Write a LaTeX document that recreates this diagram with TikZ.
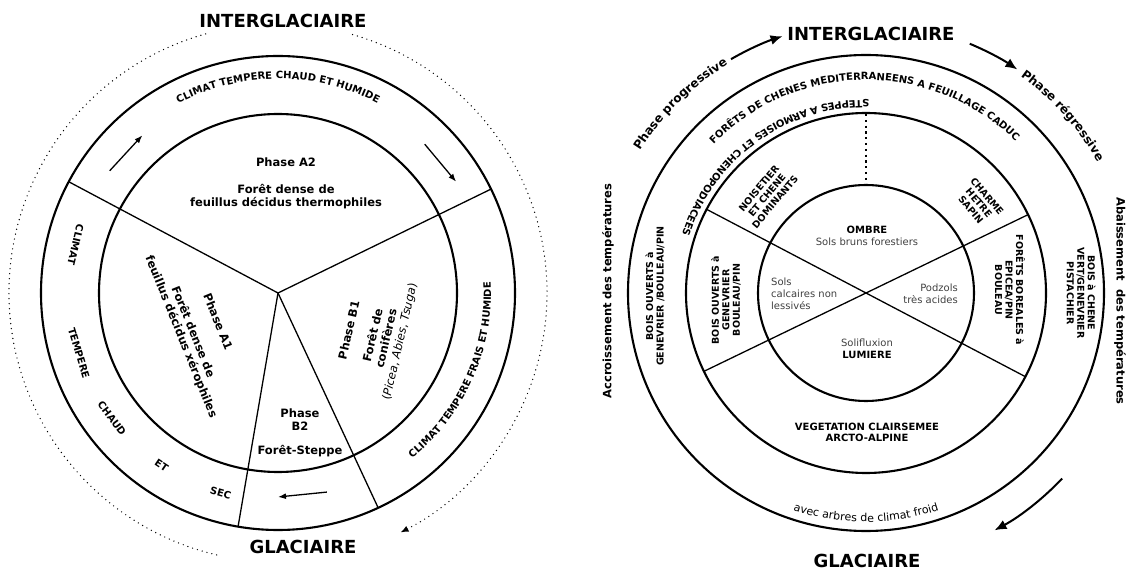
\documentclass[tikz,border=0pt]{standalone}
\usepackage{fontspec}
\setmainfont{DejaVu Sans}
\usetikzlibrary{decorations.text,arrows.meta,calc}
\begin{document}
\begin{tikzpicture}[x=1pt,y=1pt,
  ring/.style={line width=2.1pt},
  spoke/.style={line width=1.3pt},
  lbl/.style={font=\bfseries\fontsize{11.5}{12.6}\selectfont, align=center, inner sep=0pt},
  ann/.style={font=\bfseries\fontsize{9.5}{10.5}\selectfont, align=center, inner sep=0pt},
  word/.style={font=\bfseries\fontsize{10}{12}\selectfont, inner sep=0pt},
  big/.style={font=\bfseries\fontsize{18}{20}\selectfont, inner sep=0pt},
  side/.style={font=\bfseries\fontsize{11.5}{13}\selectfont, inner sep=0pt},
  soil/.style={font=\fontsize{10}{11.8}\selectfont, text=black!75, inner sep=0pt},
  dots/.style={line width=1.4pt, dash pattern=on 0pt off 5pt, line cap=round},
  smallarrow/.style={line width=1.3pt, -{Latex[length=8pt,width=6pt]}},
  bigarrow/.style={line width=2pt, -{Latex[length=12pt,width=10pt]}},
]
\useasboundingbox (0,0) rectangle (1128,571);
\coordinate (C1) at (278,278);
\coordinate (C2) at (866,278);

% ================= LEFT DIAGRAM =================
\draw[ring] (C1) circle[radius=237];
\draw[ring] (C1) circle[radius=179];
\foreach \a in {152,26,260.3,295} \draw[spoke] (C1) -- ($(C1)+(\a:237)$);

% dotted outer arcs
\draw[dots] ($(C1)+(105.6:269)$) arc[start angle=105.6, end angle=257, radius=269];
\draw[dots, -{Latex[length=8pt,width=6.5pt]}] ($(C1)+(73.9:269)$) arc[start angle=73.9, end angle=-62.9, radius=269];

% arrows in annulus
\draw[smallarrow] ($(C1)+(144:208)$) -- ($(C1)+(130.7:208)$);
\draw[smallarrow] ($(C1)+(45.4:209)$) -- ($(C1)+(32:210)$);
\draw[smallarrow] ($(C1)+(-76.2:205)$) -- ($(C1)+(-90:204)$);

% curved annulus texts
\path[decorate, decoration={text along path, text align=center,
  text={|\bfseries\fontsize{10}{12}\selectfont|CLIMAT TEMPERE CHAUD ET HUMIDE}}]
  ($(C1)+(150:214)$) arc[start angle=150, end angle=30, radius=214];
\path[decorate, decoration={text along path, text align=center,
  text={|\bfseries\fontsize{10}{12}\selectfont|CLIMAT TEMPERE FRAIS ET HUMIDE}}]
  ($(C1)+(-70:213)$) arc[start angle=-70, end angle=22, radius=213];
\foreach \w/\a in {CLIMAT/166.6, TEMPERE/196.8, CHAUD/217, ET/236, SEC/254}
  \node[word, rotate=\a+90] (w\w) at ($(C1)+(\a:208)$) {\w};

% sector labels
\node[lbl] (a2) at (286,387.5) {Phase A2\\[14.4pt]Forêt dense de\\feuillus décidus thermophiles};
\node[lbl, rotate=-68] (a1) at (199,241.5) {Phase A1\\[14pt]Forêt dense de\\feuillus décidus xérophiles};
\node[lbl, rotate=77] (b1) at (375,235) {Phase B1\\[12pt]Forêt de\\[1pt]conifères\\[1pt]{\mdseries(\textit{Picea}, \textit{Abies}, \textit{Tsuga})}};
\node[lbl] (b2) at (300,138) {Phase\\B2\\[12pt]Forêt-Steppe};

\node[big] (ig1) at (283,550) {INTERGLACIAIRE};
\node[big] (g1) at (303,24) {GLACIAIRE};

% ================= RIGHT DIAGRAM =================
\draw[ring] (C2) circle[radius=238];
\draw[ring] (C2) circle[radius=180];
\draw[ring] (C2) circle[radius=108];
\draw[spoke] ($(C2)+(152.3:180)$) -- ($(C2)+(-27.7:180)$);
\draw[spoke] ($(C2)+(205.8:180)$) -- ($(C2)+(25.8:180)$);
\draw[line width=2.2pt, dash pattern=on 2.2pt off 3.6pt] ($(C2)+(0,179)$) -- ($(C2)+(0,109)$);

% outer arrows
\draw[bigarrow] ($(C2)+(120:270)$) arc[start angle=120, end angle=108, radius=270];
\draw[bigarrow] ($(C2)+(67.4:270)$) arc[start angle=67.4, end angle=55.8, radius=268];
\draw[bigarrow] ($(C2)+(-43.4:270)$) arc[start angle=-43.4, end angle=-61.7, radius=268];

% curved texts
\path[decorate, decoration={text along path, text align=center,
  text={|\bfseries\fontsize{12}{14}\selectfont|Phase progressive}}]
  ($(C2)+(170:267)$) arc[start angle=170, end angle=99, radius=267];
\path[decorate, decoration={text along path, text align=center,
  text={|\bfseries\fontsize{12}{14}\selectfont|Phase régressive}}]
  ($(C2)+(77:266)$) arc[start angle=77, end angle=7, radius=266];
\path[decorate, decoration={text along path, text align=center,
  text={|\bfseries\fontsize{10}{12}\selectfont|FORÊTS DE CHENES MEDITERRANEENS A FEUILLAGE CADUC}}]
  ($(C2)+(170:213)$) arc[start angle=170, end angle=11, radius=213];
\path[decorate, decoration={text along path, text align=left,
  text={|\bfseries\fontsize{10}{12}\selectfont|STEPPES A ARMOISES ET CHENOPODIACEES}}]
  ($(C2)+(89:193)$) arc[start angle=89, end angle=220, radius=193];
\path[decorate, decoration={text along path, text align=center,
  text={|\fontsize{11}{13}\selectfont|avec arbres de climat froid}}]
  ($(C2)+(230:229)$) arc[start angle=230, end angle=310, radius=229];

% inner circle
\node[ann, font=\bfseries\fontsize{10}{12}\selectfont] (ombre) at (867,341) {OMBRE};
\node[soil] (sbf) at (867,329) {Sols bruns forestiers};
\node[soil, anchor=west, align=left] (scal) at (771,277.5) {Sols\\calcaires non\\lessivés};
\node[soil, anchor=east, align=right] (podz) at (958,277.5) {Podzols\\très acides};
\node[soil] (solif) at (867,228) {Solifluxion};
\node[ann, font=\bfseries\fontsize{10}{12}\selectfont] (lum) at (867,216) {LUMIERE};

% middle ring
\node[ann, font=\bfseries\fontsize{10}{11}\selectfont] (veg) at (867,138.5) {VEGETATION CLAIRSEMEE\\ARCTO-ALPINE};
\node[ann, rotate=50] (nois) at (767,376) {NOISETIER\\ET CHENE\\DOMINANTS};
\node[ann, rotate=-50] (charme) at (979,368) {CHARME\\HETRE\\SAPIN};
\node[ann, rotate=90] (bois2) at (726,271) {BOIS OUVERTS à\\GENEVRIER\\BOULEAU/PIN};
\node[ann, rotate=-90] (bor) at (1010,281) {FORÊTS BOREALES à\\EPICEA/PIN\\BOULEAU};

% outer ring
\node[ann, rotate=90] (bois1) at (655,275) {BOIS OUVERTS à\\GENEVRIER /BOULEAU/PIN};
\node[ann, rotate=-90] (chene) at (1081,278) {BOIS à CHENE\\VERT/GENEVRIER\\PISTACHIER};

% side labels
\node[side, rotate=90] (accr) at (608,280) {Accroissement des températures};
\node[side, rotate=-90] (abai) at (1120,270) {Abaissement\ \ des températures};

\node[big] (ig2) at (871,537) {INTERGLACIAIRE};
\node[big] (g2) at (867,10) {GLACIAIRE};
\end{tikzpicture}
\end{document}
